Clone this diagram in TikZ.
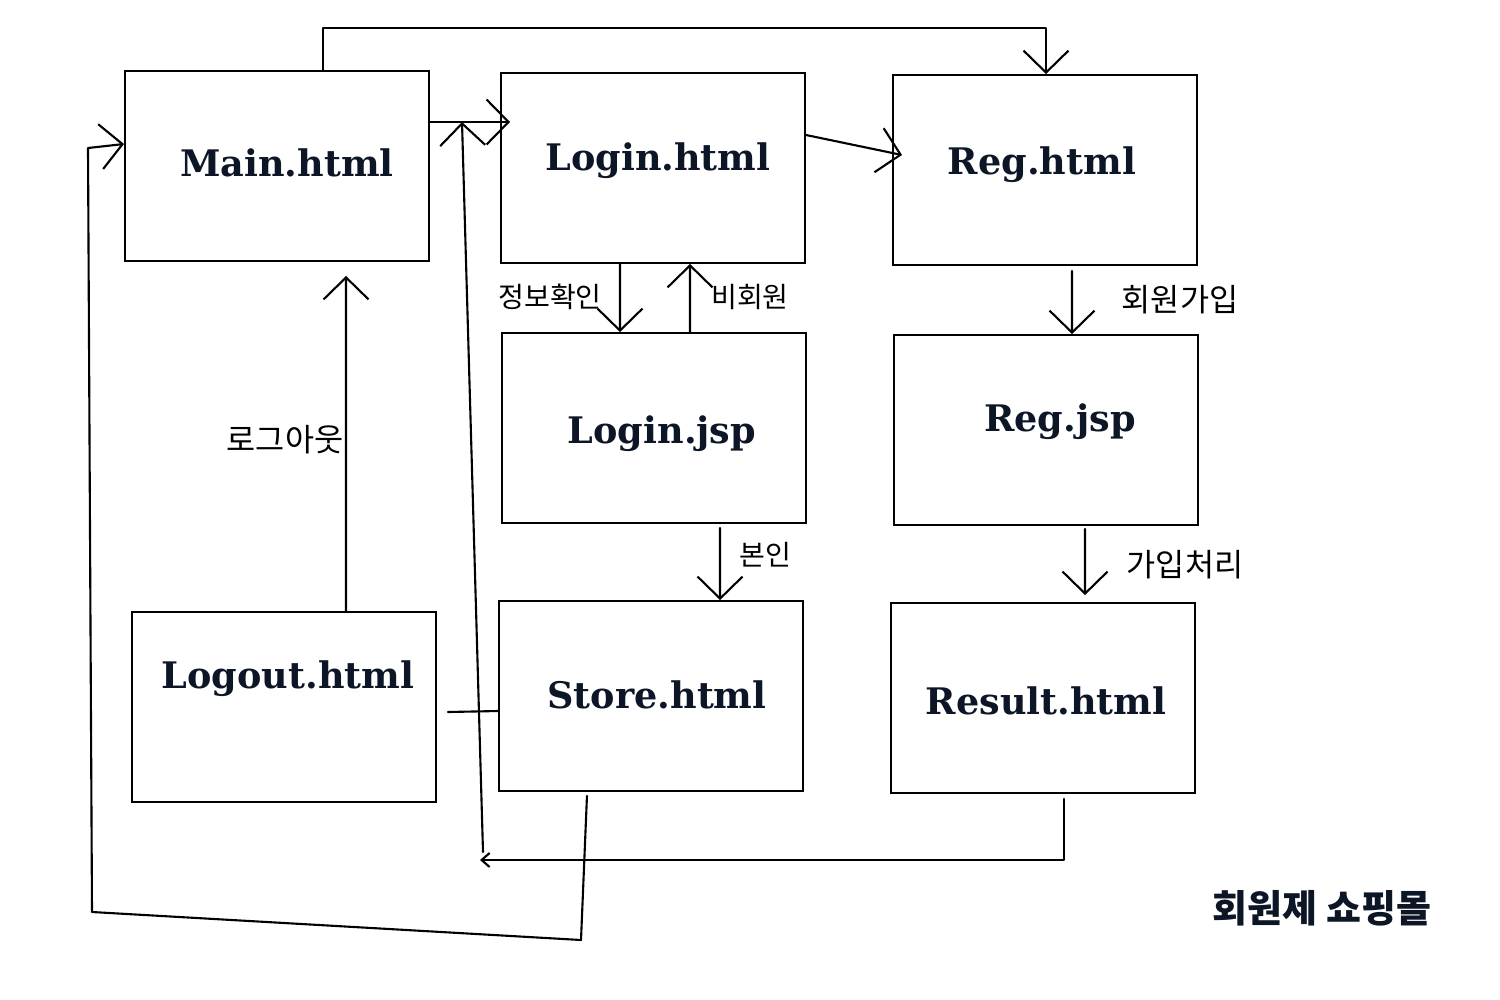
\documentclass[tikz,border=0pt]{standalone}
\usepackage{fontspec}
\usepackage{tikz}
\usetikzlibrary{arrows.meta}
\usetikzlibrary{calc}

\newfontfamily\pagefont{DejaVu Serif}
\newfontfamily\hangul{Noto Sans CJK KR}
\definecolor{ink}{RGB}{12,22,38}

\tikzset{
  page/.style={draw, line width=0.5pt, minimum width=3.04cm, minimum height=1.9cm, inner sep=0pt},
  pagename/.style={font=\pagefont\bfseries\fontsize{10.4}{10.4}\selectfont, text=ink},
  wire/.style={line width=0.6pt, line cap=round, line join=round},
  barb/.style={-{Straight Barb[length=0.22cm,width=0.45cm]}},
  smallbarb/.style={-{Straight Barb[length=0.08cm,width=0.14cm]}},
  hand/.style={font=\hangul\fontsize{8}{8}\selectfont}
}

\begin{document}
\begin{tikzpicture}[x=0.01cm,y=-0.01cm]

\useasboundingbox (0,0) rectangle (1500,1000);

% the pages
\node[page] (main) at (277,166) {};
\node[page] (login) at (653,168) {};
\node[page] (reg) at (1045,170) {};
\node[page] (loginjsp) at (654,428) {};
\node[page] (regjsp) at (1046,430) {};
\node[page] (logout) at (284,707) {};
\node[page] (store) at (651,696) {};
\node[page] (result) at (1043,698) {};

\node[pagename] (mainT) at (287,163) {Main.html};
\node[pagename] (loginT) at (658,161) {Login.html};
\node[pagename] (regT) at (1042,165) {Reg.html};
\node[pagename] (loginjspT) at (662,434) {Login.jsp};
\node[pagename] (regjspT) at (1060,422) {Reg.jsp};
\node[pagename] (logoutT) at (288,679) {Logout.html};
\node[pagename] (storeT) at (657,695) {Store.html};
\node[pagename] (resultT) at (1046,701) {Result.html};

% links
\coordinate (topL) at (323,28);
\coordinate (topR) at (1046,28);
\draw[wire,barb] (main.north -| topL) -- (topL) -- (topR) -- (reg.north -| topR);

\coordinate (mainOut) at (432,122);
\draw[wire,barb] (main.east |- mainOut) -- ([xshift=0.1cm]login.west |- mainOut);

\coordinate (lrA) at (810,135);
\coordinate (lrB) at (905,155);
\draw[wire,barb] (login.east |- lrA) -- ([xshift=0.1cm]reg.west |- lrB);

\draw[wire,barb] ([xshift=-0.33cm]login.south) -- ([xshift=-0.34cm]loginjsp.north);
\draw[wire,barb] ([xshift=0.36cm]loginjsp.north) -- ([xshift=0.37cm]login.south);
\draw[wire,barb] ([xshift=0.27cm,yshift=-0.05cm]reg.south) -- ([xshift=0.26cm]regjsp.north);
\draw[wire,barb] ([xshift=0.66cm,yshift=-0.04cm]loginjsp.south) -- ([xshift=0.69cm]store.north);
\draw[wire,barb] ([xshift=0.39cm,yshift=-0.03cm]regjsp.south) -- ([xshift=0.42cm,yshift=0.07cm]result.north);
\draw[wire,barb] ([xshift=0.62cm]logout.north) -- ([xshift=0.69cm,yshift=-0.14cm]main.south);
\draw[wire] ([xshift=0.11cm,yshift=-0.05cm]logout.east) -- ([yshift=-0.15cm]store.west);

% back to login
\coordinate (backBot) at (480,860);
\coordinate (backTop) at (462,122);
\draw[wire,smallbarb] ([xshift=0.21cm,yshift=-0.05cm]result.south) |- (backBot);
\draw[wire,barb] ([xshift=0.03cm,yshift=0.08cm]backBot) -- (backTop);

% back to main
\coordinate (loopA) at (581,940);
\coordinate (loopB) at (92,912);
\coordinate (loopC) at (88,148);
\draw[wire,barb] ([xshift=-0.64cm,yshift=-0.04cm]store.south) -- (loopA) -- (loopB) -- (loopC) -- ([yshift=0.22cm]main.west);

% labels
\node[hand] (lInfo) at (550,297) {정보확인};
\node[hand] (lGuest) at (750,297) {비회원};
\node[hand,font=\hangul\fontsize{9}{9}\selectfont] (lJoin) at (1180,300) {회원가입};
\node[hand,font=\hangul\fontsize{9}{9}\selectfont] (lOut) at (285,440) {로그아웃};
\node[hand] (lSelf) at (765,555) {본인};
\node[hand,font=\hangul\fontsize{9}{9}\selectfont] (lDone) at (1185,565) {가입처리};

\node[font=\hangul\bfseries\fontsize{10.8}{10.8}\selectfont, text=ink] (title) at (1322,908) {회원제 쇼핑몰};

\end{tikzpicture}
\end{document}
